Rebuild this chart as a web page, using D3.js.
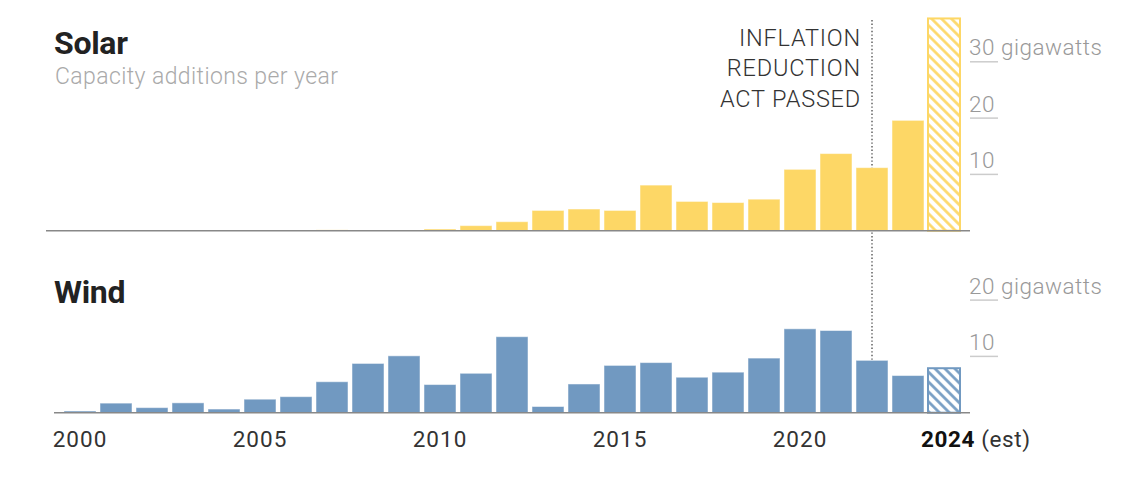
<!DOCTYPE html>
<html>
<head>
<meta charset="utf-8">
<script src="https://cdn.jsdelivr.net/npm/d3@7"></script>
<style>
  body { margin: 0; background: #fff; }
  svg text { font-family: Roboto, "Noto Sans", sans-serif; }
</style>
</head>
<body>
<div id="chart"></div>
<script>
var years = d3.range(2000, 2025);
var solarValues = [0.05, 0, 0.03, 0.03, 0.03, 0.03, 0.03, 0.15, 0.05, 0.1,
    0.3, 0.9, 1.6, 3.6, 3.85, 3.6, 8.1, 5.2, 5.0, 5.6,
    10.9, 13.7, 11.2, 19.6, 37.7];
var windValues = [0.3, 1.7, 0.9, 1.75, 0.65, 2.4, 2.85, 5.5, 8.75, 10.1,
    5.0, 7.0, 13.5, 1.1, 5.1, 8.4, 8.9, 6.3, 7.2, 9.7,
    14.9, 14.6, 9.3, 6.6, 7.9];
var solarTicks = [10, 20, 30];
var windTicks = [10, 20];
var xLabels = [2000, 2005, 2010, 2015, 2020];
var estYear = 2024;
var iraYear = 2022;
var annotation = ["INFLATION", "REDUCTION", "ACT PASSED"];

var svg = d3.select("#chart").append("svg")
    .attr("width", 1140)
    .attr("height", 500);

var x = d3.scaleBand()
    .domain(years)
    .range([62, 962])
    .paddingInner(4 / 36)
    .paddingOuter(2 / 36);

var ySolar = d3.scaleLinear().domain([0, 30]).range([230.7, 61.8]);
var yWind = d3.scaleLinear().domain([0, 20]).range([412.7, 300.1]);

var defs = svg.append("defs");
function hatch(id, color) {
    var p = defs.append("pattern")
        .attr("id", id)
        .attr("patternUnits", "userSpaceOnUse")
        .attr("width", 7)
        .attr("height", 7)
        .attr("patternTransform", "rotate(-45)");
    p.append("rect").attr("width", 7).attr("height", 7).attr("fill", "#fff");
    p.append("line")
        .attr("x1", 1.5).attr("x2", 1.5)
        .attr("y1", 0).attr("y2", 7)
        .attr("stroke", color)
        .attr("stroke-width", 2.6);
}
hatch("hatch-solar", "#fdd766");
hatch("hatch-wind", "#7199c1");

// IRA marker, behind the bars
svg.append("line")
    .attr("x1", x(iraYear) + x.bandwidth() / 2)
    .attr("x2", x(iraYear) + x.bandwidth() / 2)
    .attr("y1", 20)
    .attr("y2", yWind(0))
    .attr("stroke", "#555")
    .attr("stroke-width", 1.4)
    .attr("stroke-dasharray", "1.4,2.2");

svg.append("g")
    .selectAll("text")
    .data(annotation)
    .enter().append("text")
    .attr("x", 861)
    .attr("y", function(d, i) { return 46 + i * 30.3 })
    .attr("text-anchor", "end")
    .attr("font-size", 23.5)
    .attr("font-weight", 300)
    .attr("letter-spacing", 0.8)
    .attr("fill", "#333")
    .text(function(d) { return d });

function panel(values, y, ticks, color, hatchId, baseX, title, titleY) {
    var g = svg.append("g");

    g.selectAll("rect.bar")
        .data(years)
        .enter().append("rect")
        .attr("class", "bar")
        .attr("x", function(d) { return x(d) })
        .attr("width", x.bandwidth())
        .attr("y", function(d, i) { return y(values[i]) })
        .attr("height", function(d, i) { return y(0) - y(values[i]) })
        .attr("fill", function(d) { return d == estYear ? "url(#" + hatchId + ")" : color })
        .attr("stroke", function(d) { return d == estYear ? color : "#fff" })
        .attr("stroke-opacity", function(d) { return d == estYear ? 1 : 0.5 })
        .attr("stroke-width", function(d) { return d == estYear ? 2 : 1 });

    g.append("line")
        .attr("x1", baseX)
        .attr("x2", 970)
        .attr("y1", y(0))
        .attr("y2", y(0))
        .attr("stroke", "#888")
        .attr("stroke-width", 1.5);

    var t = g.selectAll("g.tick")
        .data(ticks)
        .enter().append("g")
        .attr("class", "tick");
    t.append("line")
        .attr("x1", 970).attr("x2", 998)
        .attr("y1", function(d) { return y(d) })
        .attr("y2", function(d) { return y(d) })
        .attr("stroke", "#ccc")
        .attr("stroke-width", 1.5);
    t.append("text")
        .attr("x", 969)
        .attr("y", function(d) { return y(d) - 6.5 })
        .attr("font-size", 22.5)
        .attr("font-weight", 300)
        .attr("letter-spacing", 0.5)
        .attr("fill", "#999")
        .text(function(d, i) { return i == ticks.length - 1 ? d + " gigawatts" : d });

    g.append("text")
        .attr("x", 54)
        .attr("y", titleY)
        .attr("font-size", 32)
        .attr("font-weight", 700)
        .attr("letter-spacing", -0.3)
        .attr("fill", "#222")
        .text(title);
}

panel(solarValues, ySolar, solarTicks, "#fdd766", "hatch-solar", 46, "Solar", 54);
panel(windValues, yWind, windTicks, "#7199c1", "hatch-wind", 54, "Wind", 302.5);

svg.append("text")
    .attr("x", 55)
    .attr("y", 84)
    .attr("font-size", 23)
    .attr("font-weight", 300)
    .attr("letter-spacing", 0.4)
    .attr("fill", "#aaa")
    .text("Capacity additions per year");

svg.append("g")
    .selectAll("text")
    .data(xLabels)
    .enter().append("text")
    .attr("x", function(d) { return x(d) + x.bandwidth() / 2 })
    .attr("y", 446.5)
    .attr("text-anchor", "middle")
    .attr("font-size", 22.5)
    .attr("letter-spacing", 1)
    .attr("fill", "#333")
    .text(function(d) { return d });

var est = svg.append("text")
    .attr("y", 446.5)
    .attr("font-size", 22.5)
    .attr("letter-spacing", 0.6)
    .attr("fill", "#333");
var estBold = est.append("tspan")
    .attr("font-weight", 700)
    .attr("fill", "#111")
    .text(estYear);
est.append("tspan").text(" (est)");
var bw = estBold.node().getComputedTextLength();
est.attr("x", x(estYear) + x.bandwidth() / 2 - bw / 2 + 4);
</script>
</body>
</html>
